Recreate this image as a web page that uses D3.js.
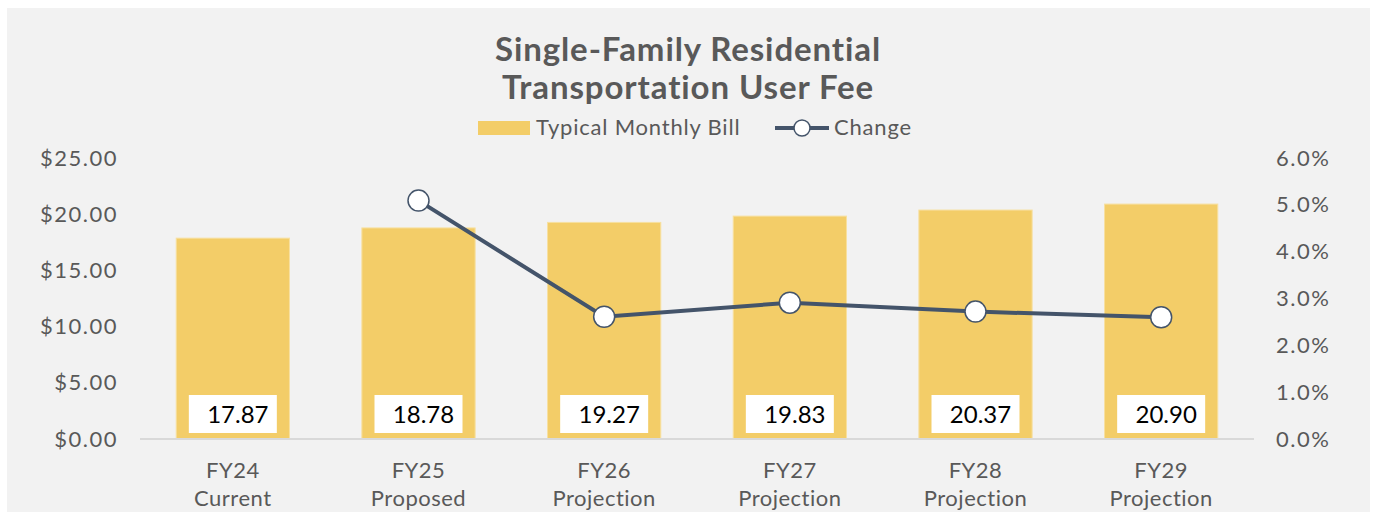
<!DOCTYPE html>
<html>
<head>
<meta charset="utf-8">
<script src="https://cdn.jsdelivr.net/npm/d3@7"></script>
<style>
  body { margin: 0; background: #fff; }
  text { font-family: Lato, "Open Sans", sans-serif; }
</style>
</head>
<body>
<div id="chart"></div>
<script>
const width = 1374, height = 512;
const margin = { top: 158, right: 120, bottom: 73, left: 140 };

const years = ["FY24", "FY25", "FY26", "FY27", "FY28", "FY29"];
const stages = ["Current", "Proposed", "Projection", "Projection", "Projection", "Projection"];
const monthlyBill = [17.87, 18.78, 19.27, 19.83, 20.37, 20.90];
const change = [null, 5.09, 2.61, 2.91, 2.72, 2.60];
const billTicks = [0, 5, 10, 15, 20, 25];
const pctTicks = [0, 1, 2, 3, 4, 5, 6];

const gold = "#f3cd68", slate = "#44546a", grey = "#595959";

const svg = d3.select("#chart").append("svg")
  .attr("width", width).attr("height", height);

// chart area background
svg.append("rect")
  .attr("x", 7).attr("y", 8)
  .attr("width", 1363).attr("height", height - 8)
  .attr("fill", "#f2f2f2");

const x = d3.scaleBand()
  .domain(years)
  .range([margin.left, 1254])
  .paddingInner(0.39).paddingOuter(0.195);
const y = d3.scaleLinear().domain([0, 25]).range([439, margin.top]);
const y2 = d3.scaleLinear().domain([0, 6]).range([439, margin.top]);

// title
svg.append("text")
  .attr("x", 688).attr("y", 0)
  .attr("text-anchor", "middle")
  .attr("fill", grey).attr("font-weight", "bold").attr("font-size", 33)
  .attr("letter-spacing", 0.9)
  .selectAll("tspan")
  .data(["Single-Family Residential", "Transportation User Fee"])
  .join("tspan")
  .attr("x", 688)
  .attr("y", (d, i) => 61 + i * 38)
  .text(d => d);

// legend
const lg = svg.append("g");
lg.append("rect").attr("x", 478).attr("y", 121).attr("width", 52).attr("height", 14).attr("fill", gold);
lg.append("text").attr("x", 536).attr("y", 135).attr("font-size", 22).attr("letter-spacing", 0.8)
  .attr("fill", grey).text("Typical Monthly Bill");
lg.append("line").attr("x1", 775).attr("x2", 829).attr("y1", 128).attr("y2", 128)
  .attr("stroke", slate).attr("stroke-width", 4);
lg.append("circle").attr("cx", 802).attr("cy", 128).attr("r", 8)
  .attr("fill", "#fff").attr("stroke", slate).attr("stroke-width", 1.5);
lg.append("text").attr("x", 834).attr("y", 135).attr("font-size", 22).attr("letter-spacing", 0.8)
  .attr("fill", grey).text("Change");

// left axis
const axL = svg.append("g")
  .attr("transform", `translate(${margin.left},0)`)
  .call(d3.axisLeft(y).tickValues(billTicks).tickFormat(d3.format("$.2f")).tickSize(0).tickPadding(22));
axL.select(".domain").remove();
axL.selectAll("text").attr("font-size", 22).attr("letter-spacing", 1.5)
  .attr("fill", grey).attr("font-family", "Lato, sans-serif");

// right axis
const axR = svg.append("g")
  .attr("transform", "translate(1254,0)")
  .call(d3.axisRight(y2).tickValues(pctTicks).tickFormat(d => d3.format(".1f")(d) + "%").tickSize(0).tickPadding(22));
axR.select(".domain").remove();
axR.selectAll("text").attr("font-size", 22).attr("letter-spacing", 1.5)
  .attr("fill", grey).attr("font-family", "Lato, sans-serif");

// bars
svg.append("g").selectAll("rect")
  .data(monthlyBill)
  .join("rect")
  .attr("x", (d, i) => x(years[i]))
  .attr("y", d => y(d))
  .attr("width", x.bandwidth())
  .attr("height", d => y(0) - y(d))
  .attr("fill", gold)
  .attr("stroke", "#f7e0a0").attr("stroke-width", 1);

// baseline
svg.append("line")
  .attr("x1", margin.left).attr("x2", 1254)
  .attr("y1", y(0)).attr("y2", y(0))
  .attr("stroke", "#d9d9d9").attr("stroke-width", 2);

// data labels at bar base
const lbl = svg.append("g").selectAll("g")
  .data(monthlyBill)
  .join("g")
  .attr("transform", (d, i) => `translate(${x(years[i]) + x.bandwidth() / 2},${y(0)})`);
lbl.append("rect")
  .attr("x", -44).attr("y", -44).attr("width", 88).attr("height", 38)
  .attr("fill", "#fff");
lbl.append("text")
  .attr("x", 5).attr("y", -16)
  .attr("text-anchor", "middle")
  .attr("font-size", 24).attr("fill", "#000")
  .text(d => d3.format(".2f")(d));

// category labels
const cat = svg.append("g").selectAll("text")
  .data(years)
  .join("text")
  .attr("text-anchor", "middle")
  .attr("font-size", 22).attr("letter-spacing", 0.5).attr("fill", grey);
cat.append("tspan").attr("x", d => x(d) + x.bandwidth() / 2).attr("y", 478).text(d => d);
cat.append("tspan").attr("x", d => x(d) + x.bandwidth() / 2).attr("y", 506).text((d, i) => stages[i]);

// change line
const pts = change.map((v, i) => ({ year: years[i], v })).filter(d => d.v != null);
svg.append("path")
  .datum(pts)
  .attr("d", d3.line().x(d => x(d.year) + x.bandwidth() / 2).y(d => y2(d.v)))
  .attr("fill", "none").attr("stroke", slate).attr("stroke-width", 4);
svg.append("g").selectAll("circle")
  .data(pts)
  .join("circle")
  .attr("cx", d => x(d.year) + x.bandwidth() / 2)
  .attr("cy", d => y2(d.v))
  .attr("r", 10.5)
  .attr("fill", "#fff").attr("stroke", slate).attr("stroke-width", 1.5);
</script>
</body>
</html>
